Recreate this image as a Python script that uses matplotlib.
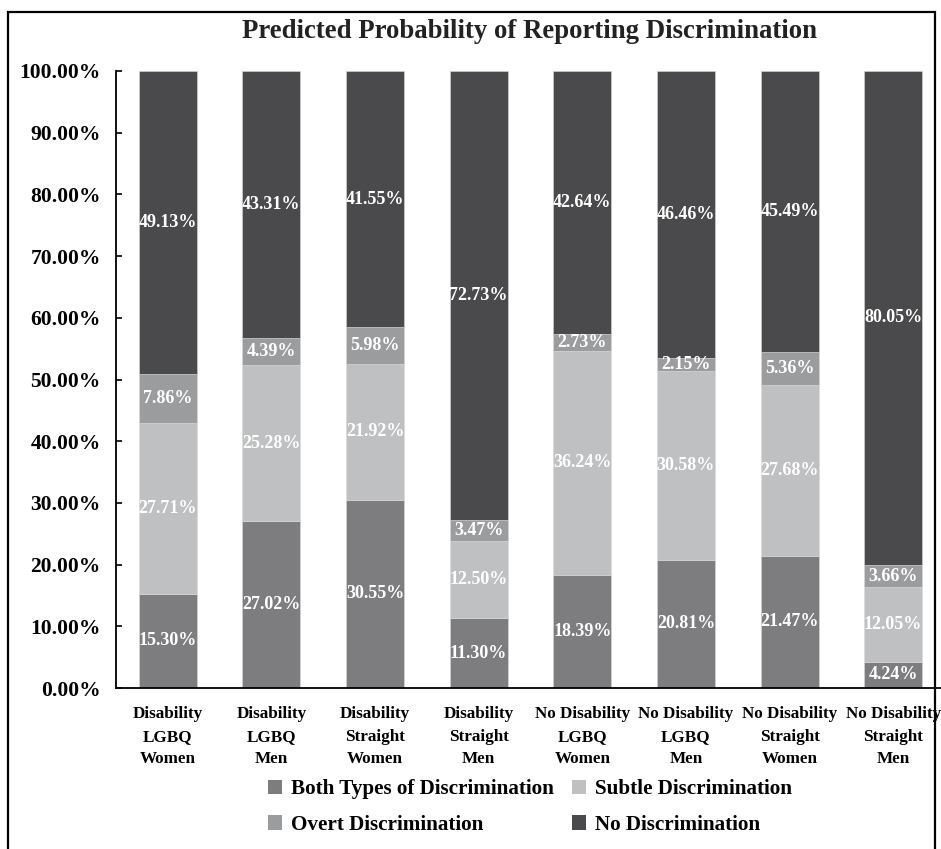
import matplotlib
matplotlib.use("Agg")
import matplotlib.pyplot as plt
from matplotlib.patches import Rectangle, Patch
import numpy as np

# data (percent)
categories = ["Disability\nLGBQ\nWomen", "Disability\nLGBQ\nMen",
              "Disability\nStraight\nWomen", "Disability\nStraight\nMen",
              "No Disability\nLGBQ\nWomen", "No Disability\nLGBQ\nMen",
              "No Disability\nStraight\nWomen", "No Disability\nStraight\nMen"]
both_vals   = [15.30, 27.02, 30.55, 11.30, 18.39, 20.81, 21.47, 4.24]
subtle_vals = [27.71, 25.28, 21.92, 12.50, 36.24, 30.58, 27.68, 12.05]
overt_vals  = [7.86, 4.39, 5.98, 3.47, 2.73, 2.15, 5.36, 3.66]
none_vals   = [49.13, 43.31, 41.55, 72.73, 42.64, 46.46, 45.49, 80.05]

series_names  = ["Both Types of Discrimination", "Subtle Discrimination",
                 "Overt Discrimination", "No Discrimination"]
series_colors = ["#7d7d7f", "#bfc0c2", "#9b9c9e", "#4a4a4c"]

plt.rcParams['font.family'] = ['Liberation Serif', 'DejaVu Serif']
plt.rcParams['font.weight'] = 'bold'

fig = plt.figure(figsize=(9.41, 8.49), dpi=100)
ax = fig.add_axes([116/941, 1-688/849, 829/941, 617/849])

x = np.arange(len(categories))
bottom = np.zeros(len(categories))
handles = []
for vals, name, col in zip([both_vals, subtle_vals, overt_vals, none_vals],
                           series_names, series_colors):
    vals = np.array(vals)
    ax.bar(x, vals, width=0.56, bottom=bottom, color=col,
           edgecolor="#d8d8d8", linewidth=0.4, label=name)
    for xi, b, v in zip(x, bottom, vals):
        ax.text(xi, b + v/2, "%.2f%%" % v, ha="center", va="center",
                color="white", fontsize=13, fontweight="bold")
    bottom += vals
    handles.append(Patch(facecolor=col, label=name))

ax.set_xlim(-0.5, 7.5)
ax.set_ylim(0, 100)
ax.set_yticks(np.arange(0, 101, 10))
ax.set_yticklabels(["%.2f%%" % t for t in np.arange(0, 101, 10)], fontsize=15.5)
ax.set_xticks(x)
ax.set_xticklabels(categories, fontsize=12.3, linespacing=1.55)
ax.tick_params(axis="y", direction="in", length=4, width=1.2, pad=11)
ax.tick_params(axis="x", length=0, pad=13)
for s in ["top", "right"]:
    ax.spines[s].set_visible(False)
ax.spines["left"].set_linewidth(1.3)
ax.spines["bottom"].set_linewidth(1.3)

fig.text(530/941, 1-31/849, "Predicted Probability of Reporting Discrimination",
         ha="center", va="center", fontsize=19.3, fontweight="bold", color="#222222")

order = [handles[0], handles[2], handles[1], handles[3]]
fig.legend(handles=order, loc="center", bbox_to_anchor=(530/941, 1-807/849),
           ncol=2, frameon=False, fontsize=15.2, handlelength=0.65,
           handleheight=0.65, handletextpad=0.4, columnspacing=0.9,
           labelspacing=0.75)

# outer frame of the figure panel
fig.patches.append(Rectangle((8/941, -0.02), 927/941, 1.02 - 12/849,
                             transform=fig.transFigure, fill=False,
                             edgecolor="black", linewidth=1.6))

fig.savefig("out.png", dpi=100)
